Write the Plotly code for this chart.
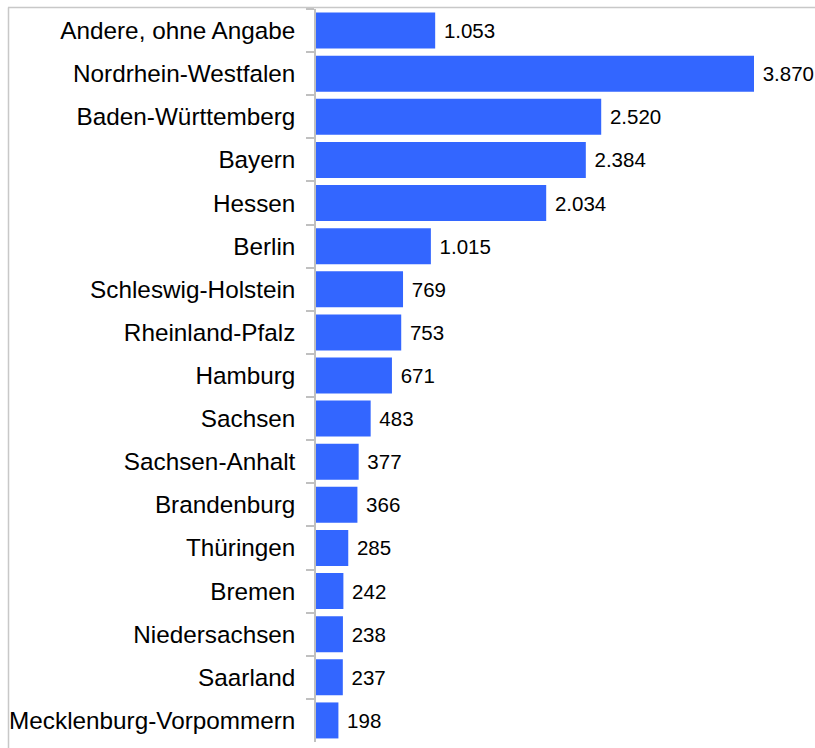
import plotly.graph_objects as go

categories = ["Andere, ohne Angabe", "Nordrhein-Westfalen", "Baden-Württemberg", "Bayern",
              "Hessen", "Berlin", "Schleswig-Holstein", "Rheinland-Pfalz", "Hamburg",
              "Sachsen", "Sachsen-Anhalt", "Brandenburg", "Thüringen", "Bremen",
              "Niedersachsen", "Saarland", "Mecklenburg-Vorpommern"]
values = [1053, 3870, 2520, 2384, 2034, 1015, 769, 753, 671, 483, 377, 366, 285, 242, 238, 237, 198]

W, H = 815, 748
L, R, T, B = 316, 3, 8.5, 6.4
PW, PH = W - L - R, H - T - B

fig = go.Figure(go.Bar(
    x=values, y=categories, orientation="h",
    marker=dict(color="#3366FF", line=dict(width=0)),
    texttemplate="\u00a0%{x:,.0f}", textposition="outside",
    textfont=dict(family="Liberation Sans, Arial", size=20.5, color="#000000"),
    cliponaxis=False,
))

xmax = 3870 * PW / 438.0

fx = lambda px: (px - L) / PW
fy = lambda py: 1 - (py - T) / PH

fig.update_layout(
    width=W, height=H,
    margin=dict(l=L, r=R, t=T, b=B, pad=0),
    paper_bgcolor="white", plot_bgcolor="white",
    separators=",.",
    bargap=0.165,
    showlegend=False,
    font=dict(family="Liberation Sans, Arial", size=24, color="#000000"),
    xaxis=dict(range=[0, xmax], visible=False, showgrid=False, zeroline=False),
    yaxis=dict(autorange="reversed", type="category", showline=True, linecolor="#c0c0c0",
               linewidth=1.5, ticks="outside", ticklen=8, tickcolor="#c0c0c0", tickwidth=1.5,
               tickson="boundaries", showgrid=False, ticklabelstandoff=14,
               tickfont=dict(family="Liberation Sans, Arial", size=24.3, color="#000000")),
    shapes=[
        dict(type="line", xref="paper", yref="paper", layer="above",
             x0=fx(8), x1=fx(W), y0=fy(7), y1=fy(7),
             line=dict(color="#c8c8c8", width=1.5)),
        dict(type="line", xref="paper", yref="paper", layer="above",
             x0=fx(8.5), x1=fx(8.5), y0=fy(7), y1=fy(H),
             line=dict(color="#c8c8c8", width=1.5)),
    ],
)

fig.write_html("out.html", config={"displayModeBar": False},
               post_script="document.body.style.margin='0';")
